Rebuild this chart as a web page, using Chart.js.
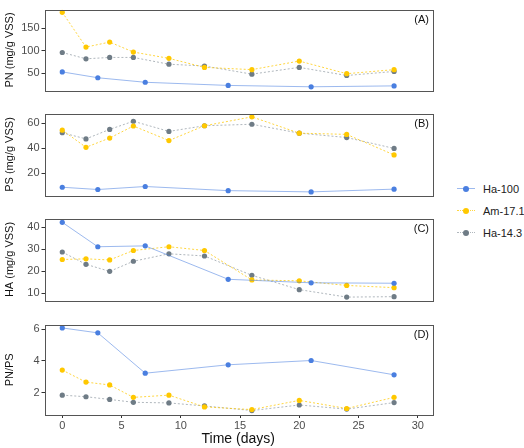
<!DOCTYPE html>
<html>
<head>
<meta charset="utf-8">
<script src="https://cdn.jsdelivr.net/npm/chart.js@4"></script>
<style>
  body { margin: 0; background: #fff; font-family: "Liberation Sans", Arial, sans-serif; }
  #wrap { position: relative; width: 524px; height: 448px; overflow: hidden; }
  .panel { position: absolute; left: 0; width: 440px; }
  #legend { position: absolute; left: 457px; top: 178px; font-size: 11px; color: #222; white-space: nowrap; }
  .item { display: flex; align-items: center; height: 22px; }
  .key { position: relative; width: 18px; height: 10px; margin-right: 8px; flex: none; }
  .key .ln { position: absolute; left: 0; right: 0; top: 4px; border-top-width: 1px; }
  .key .pt { position: absolute; left: 6px; top: 2px; width: 6px; height: 6px; border-radius: 50%; }
</style>
</head>
<body>
<div id="wrap">
  <canvas id="cA" class="panel"></canvas>
  <canvas id="cB" class="panel"></canvas>
  <canvas id="cC" class="panel"></canvas>
  <canvas id="cD" class="panel"></canvas>
  <div id="legend"></div>
</div>
<script>
// days of sampling
var daysHa100 = [0, 3, 7, 14, 21, 28];
var daysOther = [0, 2, 4, 6, 9, 12, 16, 20, 24, 28];

// (A) PN (mg/g VSS)
var pnHa100 = [53, 40, 30, 23, 20, 22];
var pnAm171 = [185, 108, 119, 97, 83, 63, 58, 77, 49, 58];
var pnHa143 = [96, 82, 85, 85, 70, 66, 48, 63, 45, 54];

// (B) PS (mg/g VSS)
var psHa100 = [8.8, 7.0, 9.4, 6.1, 5.1, 7.3];
var psAm171 = [54.4, 40.7, 48.1, 57.7, 46.1, 57.9, 65.0, 52.0, 51.0, 34.6];
var psHa143 = [52.3, 47.4, 55.0, 61.5, 53.4, 57.9, 59.1, 52.0, 48.5, 39.8];

// (C) HA (mg/g VSS)
var haHa100 = [42.2, 31.1, 31.5, 16.3, 14.7, 14.5];
var haAm171 = [25.3, 25.6, 25.1, 29.4, 31.1, 29.4, 16.0, 15.6, 13.5, 12.5];
var haHa143 = [28.7, 23.1, 19.9, 24.5, 27.9, 26.9, 18.1, 11.6, 8.2, 8.4];

// (D) PN/PS
var ratioHa100 = [6.08, 5.77, 3.23, 3.76, 4.03, 3.13];
var ratioAm171 = [3.43, 2.67, 2.49, 1.71, 1.85, 1.11, 0.94, 1.52, 1.01, 1.71];
var ratioHa143 = [1.85, 1.75, 1.58, 1.40, 1.36, 1.17, 0.88, 1.23, 0.97, 1.38];

var xTicks = [0, 5, 10, 15, 20, 25, 30];
var seriesNames = ['Ha-100', 'Am-17.1', 'Ha-14.3'];

var styles = [
  { point: '#4a7fe0', line: 'rgba(74,127,224,0.55)', dash: [] },
  { point: '#ffc800', line: 'rgba(255,200,0,0.75)', dash: [2, 2] },
  { point: '#6f7c86', line: 'rgba(111,124,134,0.55)', dash: [2, 2] }
];

function toXY(xs, ys) {
  return xs.map(function (x, i) { return { x: x, y: ys[i] }; });
}

var borderPlugin = {
  id: 'panelBorder',
  afterDraw: function (chart, args, opts) {
    var a = chart.chartArea, ctx = chart.ctx;
    ctx.save();
    ctx.strokeStyle = '#555';
    ctx.lineWidth = 1;
    ctx.strokeRect(Math.round(a.left) + 0.5, Math.round(a.top) + 0.5,
      Math.round(a.right - a.left), Math.round(a.bottom - a.top));
    ctx.fillStyle = '#111';
    ctx.font = '11px "Liberation Sans", Arial, sans-serif';
    ctx.textAlign = 'right';
    ctx.textBaseline = 'middle';
    ctx.fillText(opts.tag, a.right - 3, a.top + 10);
    ctx.restore();
  }
};

function makePanel(id, top, height, tag, yTitle, yMin, yMax, yStep, ha, am, hx, showX) {
  var cv = document.getElementById(id);
  cv.style.top = top + 'px';
  cv.width = 440; cv.height = height;
  cv.style.width = '440px'; cv.style.height = height + 'px';
  var data = [ha, am, hx];
  var xs = [daysHa100, daysOther, daysOther];
  new Chart(cv.getContext('2d'), {
    type: 'line',
    data: {
      datasets: data.map(function (d, i) {
        return {
          label: seriesNames[i],
          data: toXY(xs[i], d),
          borderColor: styles[i].line,
          borderWidth: 1,
          borderDash: styles[i].dash,
          pointBackgroundColor: styles[i].point,
          pointBorderWidth: 0,
          pointRadius: 2.6,
          tension: 0
        };
      })
    },
    options: {
      responsive: false,
      animation: false,
      layout: { padding: { top: 1, bottom: showX ? 0 : 1, left: 3, right: 8 } },
      plugins: {
        legend: { display: false },
        tooltip: { enabled: false },
        panelBorder: { tag: tag }
      },
      scales: {
        x: {
          type: 'linear',
          min: -1.5, max: 31.2,
          display: showX,
          afterBuildTicks: function (s) { s.ticks = xTicks.map(function (v) { return { value: v }; }); },
          grid: { drawOnChartArea: false, tickLength: 3, color: '#333' },
          border: { display: false },
          ticks: { color: '#4d4d4d', font: { size: 11 }, padding: 1 },
          title: { display: true, text: 'Time (days)', color: '#111', font: { size: 14 }, padding: { top: 0, bottom: 0 } },
          afterFit: function (s) { s.height = showX ? 33 : 0; }
        },
        y: {
          min: yMin, max: yMax,
          afterBuildTicks: function (s) {
            var t = [];
            for (var v = Math.ceil(yMin / yStep) * yStep; v <= yMax; v += yStep) t.push({ value: v });
            s.ticks = t;
          },
          grid: { drawOnChartArea: false, tickLength: 3, color: '#333' },
          border: { display: false },
          ticks: { color: '#4d4d4d', font: { size: 11 }, padding: 2 },
          title: { display: true, text: yTitle, color: '#111', font: { size: 11 }, padding: { top: 0, bottom: 2 } },
          afterFit: function (s) { s.width = 41.5; }
        }
      }
    },
    plugins: [borderPlugin]
  });
}

makePanel('cA', 1, 98, '(A)', 'PN (mg/g VSS)', 12, 191, 50, pnHa100, pnAm171, pnHa143, false);
makePanel('cB', 105, 99, '(B)', 'PS (mg/g VSS)', 2.3, 67.6, 20, psHa100, psAm171, psHa143, false);
makePanel('cC', 210, 99, '(C)', 'HA (mg/g VSS)', 6.7, 43.9, 10, haHa100, haAm171, haHa143, false);
makePanel('cD', 316, 132, '(D)', 'PN/PS', 0.6, 6.29, 2, ratioHa100, ratioAm171, ratioHa143, true);

// legend
var lg = document.getElementById('legend');
seriesNames.forEach(function (n, i) {
  var it = document.createElement('div');
  it.className = 'item';
  it.innerHTML = '<div class="key"><div class="ln" style="border-top-style:' +
    (styles[i].dash.length ? 'dotted' : 'solid') + ';border-top-color:' + styles[i].line +
    '"></div><div class="pt" style="background:' + styles[i].point + '"></div></div><span>' + n + '</span>';
  lg.appendChild(it);
});
</script>
</body>
</html>
